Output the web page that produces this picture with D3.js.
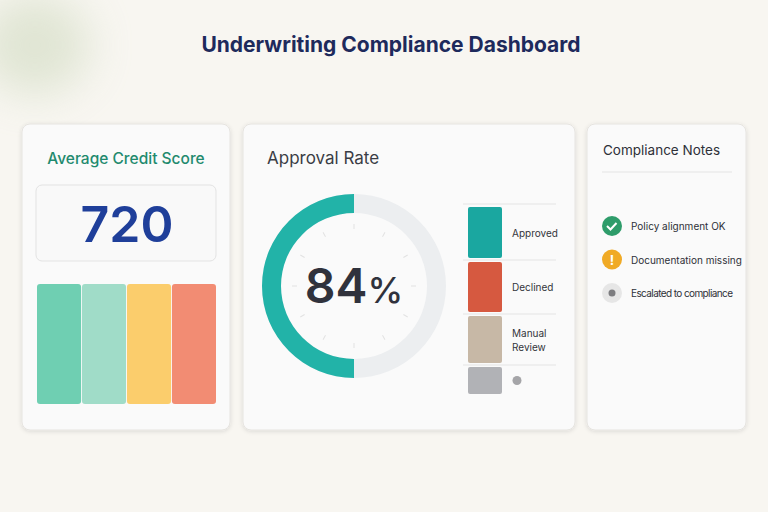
<!DOCTYPE html>
<html><head><meta charset="utf-8">
<script src="https://cdn.jsdelivr.net/npm/d3@7"></script>
<style>body{margin:0;background:#f8f6f1;}svg{display:block;font-family:Inter,"Noto Sans",sans-serif;}</style>
</head><body><svg id="c" width="768" height="512"></svg>
<script>
const title = "Underwriting Compliance Dashboard";
const creditScore = 720;
const scoreBands = ["Excellent","Good","Fair","Poor"];
const scoreBandValues = [1,1,1,1];
const scoreBandColors = ["#6fcfb2","#a0dcc8","#fbcd6c","#f28c73"];
const approvalRate = 84;
const gaugeFilled = 0.5; // fraction of circle drawn in teal in the reference
const legendLabels = [["Approved"],["Declined"],["Manual","Review"],[""]];
const legendValues = [51,50,47,27];
const legendColors = ["#1aa7a0","#d65940","#c7b8a6","#b1b2b6"];
const notes = ["Policy alignment OK","Documentation missing","Escalated to compliance"];
const noteTypes = ["ok","warn","info"];

const svg = d3.select("#c");
const defs = svg.append("defs");
const bl = defs.append("filter").attr("id","blur").attr("x","-50%").attr("y","-50%").attr("width","200%").attr("height","200%");
bl.append("feGaussianBlur").attr("stdDeviation",22);
const sh = defs.append("filter").attr("id","sh").attr("x","-10%").attr("y","-10%").attr("width","120%").attr("height","120%");
sh.append("feDropShadow").attr("dx",0).attr("dy",1).attr("stdDeviation",2).attr("flood-color","#000").attr("flood-opacity",0.12);

svg.append("rect").attr("width",768).attr("height",512).attr("fill","#f8f6f1");
svg.append("ellipse").attr("cx",35).attr("cy",45).attr("rx",55).attr("ry",50).attr("fill","#c3d1b0").attr("opacity",0.45).attr("filter","url(#blur)");

svg.append("text").attr("x",391).attr("y",52).attr("text-anchor","middle").attr("font-size",21).attr("font-weight",700).attr("fill","#1e2a5c").text(title);

function card(x,y,w,h){svg.append("rect").attr("x",x).attr("y",y).attr("width",w).attr("height",h).attr("rx",8).attr("fill","#fafafa").attr("stroke","#e6e4e0").attr("filter","url(#sh)");}
card(22,124,208,306); card(243,124,332,306); card(587,124,159,306);

// Left card
svg.append("text").attr("x",126).attr("y",164).attr("text-anchor","middle").attr("font-size",15.5).attr("font-weight",500).attr("fill","#1f8a6e").text("Average Credit Score");
svg.append("rect").attr("x",36).attr("y",185).attr("width",180).attr("height",76).attr("rx",6).attr("fill","#f9f9f9").attr("stroke","#e3e3e3");
svg.append("text").attr("x",127).attr("y",242).attr("text-anchor","middle").attr("font-size",50).attr("font-weight",600).attr("fill","#1f3f9a").text(creditScore);
const xb = d3.scaleBand().domain(scoreBands).range([37,216]).paddingInner(0.02);
const yb = d3.scaleLinear().domain([0,1]).range([404,284]);
svg.selectAll(".sb").data(scoreBands).join("rect").attr("x",d=>xb(d)).attr("width",xb.bandwidth())
 .attr("y",(d,i)=>yb(scoreBandValues[i])).attr("height",(d,i)=>404-yb(scoreBandValues[i])).attr("rx",3).attr("fill",(d,i)=>scoreBandColors[i]);

// Middle card
svg.append("text").attr("x",267).attr("y",164).attr("font-size",17).attr("fill","#3a3d45").text("Approval Rate");
const g = svg.append("g").attr("transform","translate(354,286)");
const arc = d3.arc().innerRadius(73).outerRadius(92);
g.append("path").attr("d",arc({startAngle:0,endAngle:2*Math.PI})).attr("fill","#eceef0");
g.append("path").attr("d",arc({startAngle:2*Math.PI*(1-gaugeFilled),endAngle:2*Math.PI})).attr("fill","#22b3a8");
const ticks = d3.range(12).map(i=>i*30);
g.selectAll(".tk").data(ticks).join("line").attr("x1",0).attr("x2",0).attr("y1",-62).attr("y2",-57)
 .attr("transform",d=>`rotate(${d})`).attr("stroke","#e2e2e2").attr("stroke-width",1);
const pt = g.append("text").attr("x",0).attr("y",17).attr("text-anchor","middle").attr("fill","#30323c");
pt.append("tspan").attr("font-size",48).attr("font-weight",600).text(approvalRate);
pt.append("tspan").attr("font-size",36).attr("font-weight",500).text("%");

const ly = [207,262,316,367];
const hS = d3.scaleLinear().domain([0,51]).range([0,51]);
[204,260,314,365].forEach(y=>svg.append("line").attr("x1",463).attr("x2",556).attr("y1",y).attr("y2",y).attr("stroke","#e4e4e4"));
legendColors.forEach((c,i)=>{
  svg.append("rect").attr("x",468).attr("y",ly[i]).attr("width",34).attr("height",hS(legendValues[i])).attr("rx",2).attr("fill",c);
  const lab = legendLabels[i];
  const cy = ly[i]+hS(legendValues[i])/2;
  if(lab[0]===""){svg.append("circle").attr("cx",517).attr("cy",cy).attr("r",4.5).attr("fill","#a5a5a8");}
  else lab.forEach((t,j)=>svg.append("text").attr("x",512).attr("y",cy+4+(j-(lab.length-1)/2)*14).attr("font-size",10).attr("fill","#33353a").text(t));
});

// Right card
svg.append("text").attr("x",603).attr("y",155).attr("font-size",13.5).attr("fill","#2e3038").text("Compliance Notes");
svg.append("line").attr("x1",602).attr("x2",732).attr("y1",172).attr("y2",172).attr("stroke","#e4e4e4");
const ny = d3.scalePoint().domain(notes).range([226,293]);
notes.forEach((n,i)=>{
  const y=ny(n), t=noteTypes[i];
  const fill = t==="ok"?"#2e9c6a":t==="warn"?"#f0aa25":"#e6e6e6";
  svg.append("circle").attr("cx",612).attr("cy",y).attr("r",10).attr("fill",fill);
  if(t==="ok") svg.append("path").attr("d",`M${607},${y} l3.5,3.5 l6,-6.5`).attr("fill","none").attr("stroke","#fff").attr("stroke-width",2);
  if(t==="warn") svg.append("text").attr("x",612).attr("y",y+5).attr("text-anchor","middle").attr("font-size",13).attr("font-weight",700).attr("fill","#fff").text("!");
  if(t==="info") svg.append("circle").attr("cx",612).attr("cy",y).attr("r",3.5).attr("fill","#7d7d80");
  svg.append("text").attr("x",631).attr("y",y+4).attr("font-size",10).attr("textLength",t==="info"?102:null).attr("fill","#2e3038").text(n);
});
</script></body></html>
